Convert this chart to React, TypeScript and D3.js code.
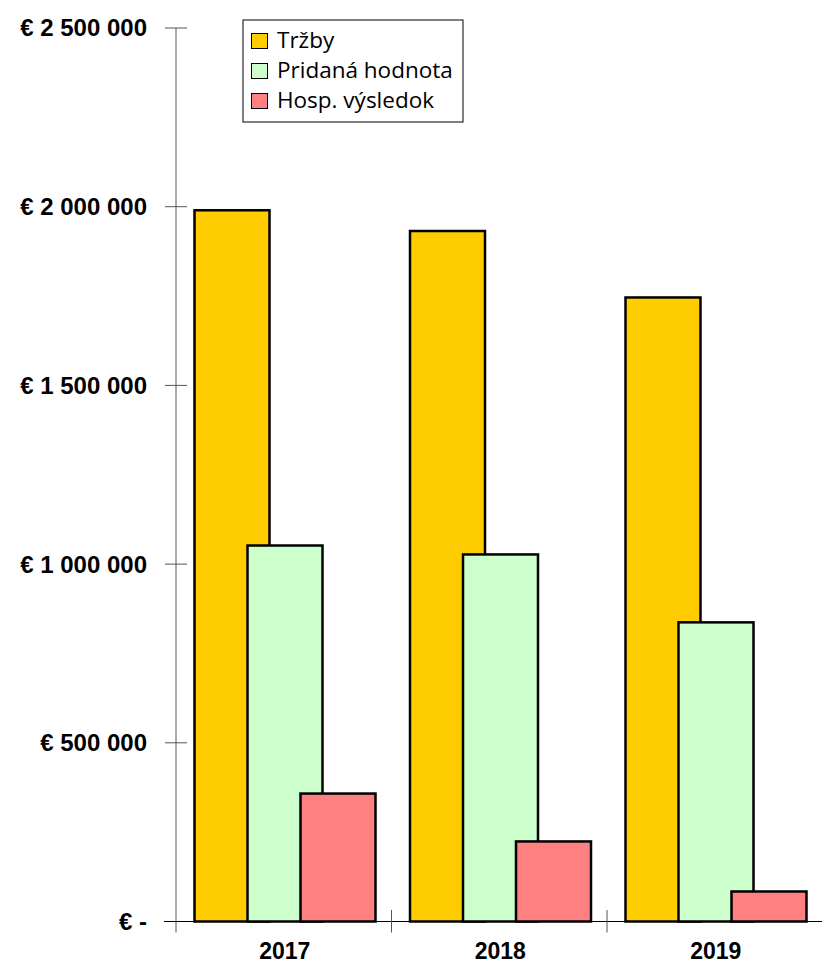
import React, { useEffect, useRef } from "react";
import * as d3 from "d3";

const years = ["2017", "2018", "2019"];
const seriesNames = ["Tržby", "Pridaná hodnota", "Hosp. výsledok"];
const trzby = [1990000, 1932000, 1746000];
const pridana = [1052000, 1027000, 837000];
const hosp = [358000, 224000, 84000];
const yTicks = [0, 500000, 1000000, 1500000, 2000000, 2500000];
const colors = ["#FFCC00", "#CCFFCC", "#FF8080"];

const App = () => {
  const ref = useRef<SVGSVGElement>(null);

  useEffect(() => {
    const width = 822;
    const svg = d3.select(ref.current);
    svg.selectAll("*").remove();

    const x = d3.scaleBand().domain(years).range([176, 822.5]).padding(0);
    const y = d3.scaleLinear().domain([0, 2500000]).range([921.5, 28]);
    // position of each series inside a category band
    const sx = d3.scaleLinear().domain([0, 2]).range([18.5, 124.5]);
    const barW = 75;

    const fmt = (v: number) =>
      v === 0 ? "€ -" : "€ " + d3.format(",")(v).replace(/,/g, " ");

    const data = [trzby, pridana, hosp];

    // bars, drawn series by series so later ones overlap
    data.forEach((vals, si) => {
      svg
        .append("g")
        .selectAll("rect")
        .data(years)
        .enter()
        .append("rect")
        .attr("x", (d) => (x(d) as number) + sx(si))
        .attr("y", (d, i) => y(vals[i]))
        .attr("width", barW)
        .attr("height", (d, i) => y(0) - y(vals[i]))
        .attr("fill", colors[si])
        .attr("stroke", "#000")
        .attr("stroke-width", 2.5);
    });

    // y axis
    const axisColor = "#555";
    svg
      .append("line")
      .attr("x1", 176)
      .attr("x2", 176)
      .attr("y1", y(2500000))
      .attr("y2", 932.5)
      .attr("stroke", axisColor);
    const yt = svg.append("g").selectAll("g").data(yTicks).enter().append("g");
    yt.append("line")
      .attr("x1", 165)
      .attr("x2", 187)
      .attr("y1", (d) => y(d))
      .attr("y2", (d) => y(d))
      .attr("stroke", axisColor);
    yt.append("text")
      .attr("x", 147)
      .attr("y", (d) => y(d))
      .attr("dy", "0.35em")
      .attr("text-anchor", "end")
      .attr("font-family", "'Liberation Sans', Arial, sans-serif")
      .attr("font-weight", "bold")
      .attr("font-size", 24)
      .attr("fill", "#000")
      .text(fmt);

    // x axis
    svg
      .append("line")
      .attr("x1", 164)
      .attr("x2", width)
      .attr("y1", y(0))
      .attr("y2", y(0))
      .attr("stroke", "#000");
    svg
      .append("g")
      .selectAll("line")
      .data(years.slice(1))
      .enter()
      .append("line")
      .attr("x1", (d) => x(d) as number)
      .attr("x2", (d) => x(d) as number)
      .attr("y1", 910)
      .attr("y2", 932.5)
      .attr("stroke", axisColor);
    svg
      .append("g")
      .selectAll("text")
      .data(years)
      .enter()
      .append("text")
      .attr("x", (d) => (x(d) as number) + x.bandwidth() / 2 + 1)
      .attr("y", 959)
      .attr("text-anchor", "middle")
      .attr("font-family", "'Liberation Sans', Arial, sans-serif")
      .attr("font-weight", "bold")
      .attr("font-size", 23)
      .attr("fill", "#000")
      .text((d) => d);

    // legend
    const lg = svg.append("g").attr("transform", "translate(243,20)");
    lg.append("rect")
      .attr("width", 220)
      .attr("height", 102)
      .attr("fill", "#fff")
      .attr("stroke", "#000")
      .attr("stroke-width", 1);
    const li = lg
      .selectAll("g.item")
      .data(seriesNames)
      .enter()
      .append("g")
      .attr("class", "item")
      .attr("transform", (d, i) => "translate(0," + i * 30 + ")");
    li.append("rect")
      .attr("x", 8.5)
      .attr("y", 13.5)
      .attr("width", 16)
      .attr("height", 15)
      .attr("fill", (d, i) => colors[i])
      .attr("stroke", "#000")
      .attr("stroke-width", 1);
    li.append("text")
      .attr("x", 34)
      .attr("y", 28)
      .attr("font-family", "'Open Sans', 'Noto Sans', sans-serif")
      .attr("font-size", 22.5)
      .attr("fill", "#000")
      .text((d) => d);
  }, []);

  return (
    <svg
      ref={ref}
      width={822}
      height={965}
      style={{ position: "absolute", left: 0, top: 0, background: "#fff" }}
    />
  );
};

export default App;
